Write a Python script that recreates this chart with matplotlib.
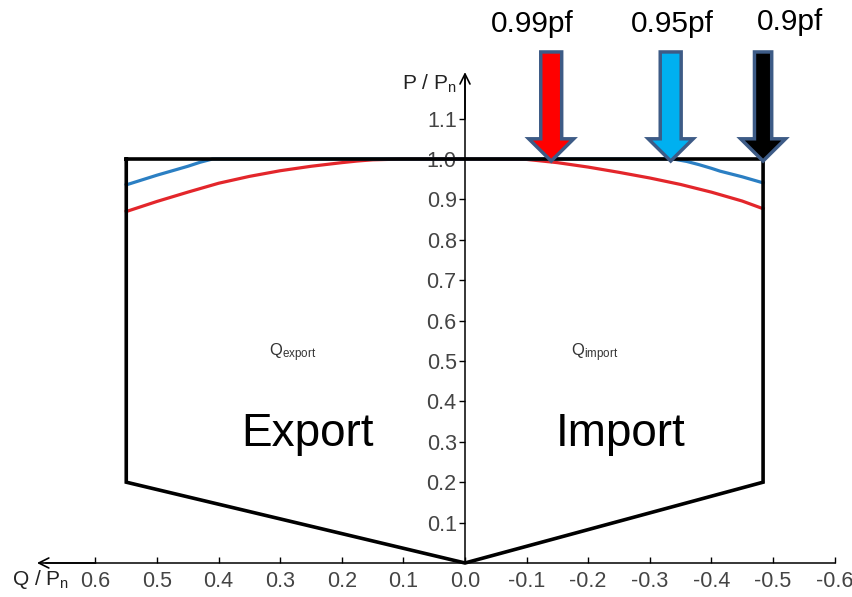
import numpy as np
import matplotlib.pyplot as plt
from matplotlib.patches import FancyArrow

plt.rcParams['font.family'] = ['Liberation Sans', 'DejaVu Sans']
plt.rcParams['mathtext.default'] = 'regular'

# capability box (Q positive = export, drawn on the left)
box_q = [0.55, -0.484, -0.484, 0.0, 0.55, 0.55]
box_p = [1.0, 1.0, 0.2, 0.0, 0.2, 1.0]

# 0.99 pf limit (red)
red_q = [0.55, 0.50, 0.45, 0.40, 0.35, 0.30, 0.25, 0.20, 0.175, 0.15, 0.10, 0.0,
         -0.10, -0.15, -0.20, -0.25, -0.30, -0.35, -0.40, -0.45, -0.484]
red_p = [0.870, 0.895, 0.918, 0.940, 0.957, 0.971, 0.982, 0.991, 0.995, 0.998, 1.0, 1.0,
         0.999, 0.991, 0.980, 0.967, 0.953, 0.937, 0.918, 0.896, 0.877]

# 0.95 pf limit (blue)
blue_q = [0.55, 0.50, 0.45, 0.43, 0.41, 0.0, -0.338, -0.36, -0.38, -0.40, -0.414, -0.45, -0.484]
blue_p = [0.936, 0.960, 0.982, 0.992, 1.0, 1.0, 1.0, 0.994, 0.986, 0.977, 0.970, 0.956, 0.941]

pf_labels = ['0.99pf', '0.95pf', '0.9pf']
pf_q = [-0.140, -0.334, -0.484]
pf_colors = ['#FF0000', '#00B0F0', '#000000']

x_ticks = [0.6, 0.5, 0.4, 0.3, 0.2, 0.1, 0.0, -0.1, -0.2, -0.3, -0.4, -0.5, -0.6]
y_ticks = [0.1, 0.2, 0.3, 0.4, 0.5, 0.6, 0.7, 0.8, 0.9, 1.0, 1.1]

fig = plt.figure(figsize=(8.53, 5.97), dpi=100)
ax = fig.add_axes([0, 0, 1, 1])
ax.set_xlim(0.755, -0.630)
ax.set_ylim(-0.0842, 1.3936)

# axes through the origin
for s in ['top', 'right']:
    ax.spines[s].set_visible(False)
ax.spines['left'].set_position(('data', 0))
ax.spines['bottom'].set_position(('data', 0))
ax.spines['left'].set_bounds(0, 1.2)
ax.spines['bottom'].set_bounds(-0.6, 0.68)
ax.spines['left'].set_linewidth(1.1)
ax.spines['bottom'].set_linewidth(1.1)
ax.annotate('', xy=(0, 1.215), xytext=(0, 1.1),
            arrowprops=dict(arrowstyle='->', lw=1.2, shrinkA=0, shrinkB=0, mutation_scale=18))
ax.annotate('', xy=(0.695, 0), xytext=(0.6, 0),
            arrowprops=dict(arrowstyle='->', lw=1.2, shrinkA=0, shrinkB=0, mutation_scale=18))

ax.set_xticks(x_ticks, labels=[f'{v:.1f}' for v in x_ticks])
ax.set_yticks(y_ticks, labels=[f'{v:.1f}' for v in y_ticks])
ax.tick_params(axis='x', direction='in', length=4, width=1, pad=6,
               labelsize=15.5, labelcolor='#444444')
ax.tick_params(axis='y', direction='out', length=4, width=1, pad=2,
               labelsize=15.5, labelcolor='#444444')

ax.plot(red_q, red_p, color='#E3262B', lw=2.3, zorder=2)
ax.plot(blue_q, blue_p, color='#2B7FC3', lw=2.3, zorder=2)
ax.plot(box_q, box_p, color='black', lw=2.6, zorder=3, solid_joinstyle='miter')

# pf arrows
for q, c, lab in zip(pf_q, pf_colors, pf_labels):
    w = 0.028 if c == '#000000' else 0.034
    ax.add_patch(FancyArrow(q, 1.265, 0, -0.27, width=w, head_width=0.073,
                            head_length=0.055, length_includes_head=True,
                            fc=c, ec='#3D5B86', lw=2.5, zorder=5))
ax.text(-0.110, 1.335, pf_labels[0], fontsize=21.5, ha='center', va='center')
ax.text(-0.336, 1.335, pf_labels[1], fontsize=21.5, ha='center', va='center')
ax.text(-0.528, 1.340, pf_labels[2], fontsize=21.5, ha='center', va='center')

ax.text(0.256, 0.32, 'Export', fontsize=33, ha='center', va='center')
ax.text(-0.252, 0.32, 'Import', fontsize=33, ha='center', va='center')
ax.text(0.28, 0.52, 'Q$_{export}$', fontsize=12, color='#333333', ha='center', va='center')
ax.text(-0.21, 0.52, 'Q$_{import}$', fontsize=12, color='#333333', ha='center', va='center')

ax.text(0.014, 1.185, 'P / P$_{n}$', fontsize=15, color='#222222', ha='right', va='center')
ax.text(0.735, -0.04, 'Q / P$_{n}$', fontsize=15, color='#222222', ha='left', va='center')

fig.savefig('out.png', dpi=100)
